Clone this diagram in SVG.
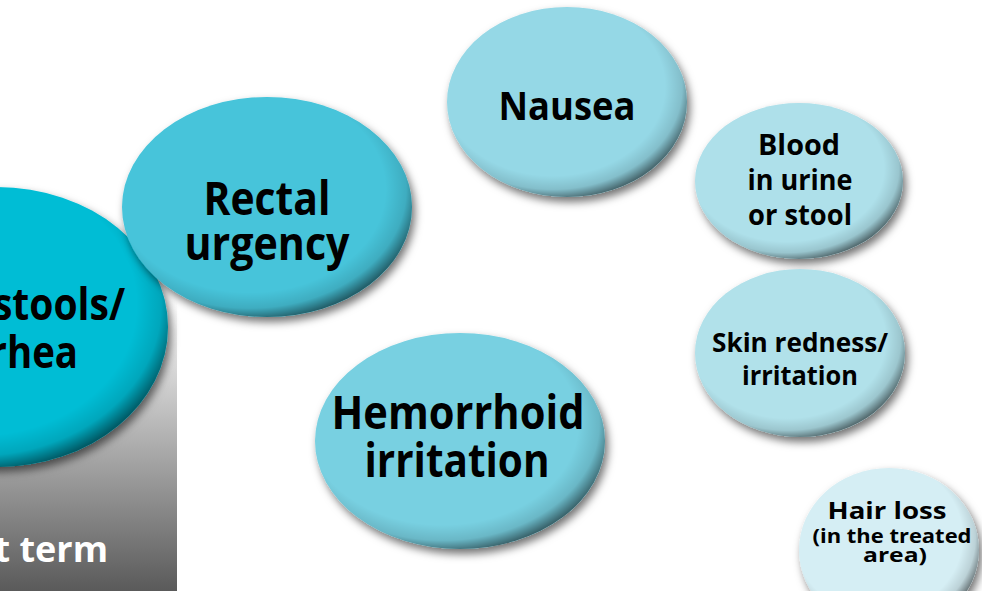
<svg xmlns="http://www.w3.org/2000/svg" width="982" height="591" viewBox="0 0 982 591">
<defs>
<linearGradient id="grayFade" x1="0" y1="0" x2="0" y2="1">
<stop offset="0" stop-color="#ffffff"/>
<stop offset="1" stop-color="#5a5a5a"/>
</linearGradient>
<radialGradient id="rim" cx="0.44" cy="0.42" r="0.6">
<stop offset="0.78" stop-color="#000" stop-opacity="0"/>
<stop offset="0.9" stop-color="#000" stop-opacity="0.12"/>
<stop offset="1" stop-color="#000" stop-opacity="0.55"/>
</radialGradient>
<filter id="shadow" x="-20%" y="-20%" width="140%" height="140%">
<feGaussianBlur in="SourceAlpha" stdDeviation="4"/>
<feOffset dx="3" dy="5" result="b"/>
<feFlood flood-color="#000" flood-opacity="0.55"/>
<feComposite in2="b" operator="in"/>
<feMerge><feMergeNode/><feMergeNode in="SourceGraphic"/></feMerge>
</filter>
</defs>
<style>
.lbl{font-family:"Open Sans","Liberation Sans",sans-serif;font-weight:700;fill:#000;text-anchor:middle}
.term{font-family:"Open Sans","Liberation Sans",sans-serif;font-weight:700;fill:#fff;text-anchor:end}
</style>
<rect width="982" height="591" fill="#ffffff"/>
<g id="short-term-panel">
<rect x="0" y="300" width="177" height="291" fill="url(#grayFade)"/>
<text class="term" x="108" y="562" font-size="36">Short term</text>
</g>
<g id="nodes">
<g id="loose-stools">
<ellipse cx="-3" cy="327" rx="171" ry="140" fill="#00BDD5" filter="url(#shadow)"/>
<ellipse cx="-3" cy="327" rx="171" ry="140" fill="url(#rim)"/>
<text class="lbl" style="text-anchor:end" x="125" y="320" font-size="45" textLength="255" lengthAdjust="spacingAndGlyphs">Loose stools/</text>
<text class="lbl" style="text-anchor:end" x="78" y="368" font-size="45" textLength="165" lengthAdjust="spacingAndGlyphs">diarrhea</text>
</g>
<g id="rectal-urgency">
<ellipse cx="267" cy="207" rx="145" ry="110" fill="#46C4DA" filter="url(#shadow)"/>
<ellipse cx="267" cy="207" rx="145" ry="110" fill="url(#rim)"/>
<text class="lbl" x="267" y="215" font-size="46" textLength="127" lengthAdjust="spacingAndGlyphs">Rectal</text>
<text class="lbl" x="267" y="260" font-size="46" textLength="165" lengthAdjust="spacingAndGlyphs">urgency</text>
</g>
<g id="nausea">
<ellipse cx="567" cy="102" rx="120" ry="95" fill="#95D8E6" filter="url(#shadow)"/>
<ellipse cx="567" cy="102" rx="120" ry="95" fill="url(#rim)"/>
<text class="lbl" x="567" y="120" font-size="39" textLength="137" lengthAdjust="spacingAndGlyphs">Nausea</text>
</g>
<g id="blood">
<ellipse cx="799" cy="181" rx="104" ry="78" fill="#AEE0EA" filter="url(#shadow)"/>
<ellipse cx="799" cy="181" rx="104" ry="78" fill="url(#rim)"/>
<text class="lbl" x="799" y="155" font-size="28" textLength="82" lengthAdjust="spacingAndGlyphs">Blood</text>
<text class="lbl" x="800" y="190" font-size="28" textLength="105" lengthAdjust="spacingAndGlyphs">in urine</text>
<text class="lbl" x="800" y="225" font-size="28" textLength="104" lengthAdjust="spacingAndGlyphs">or stool</text>
</g>
<g id="skin">
<ellipse cx="800" cy="353" rx="105" ry="84" fill="#B1E1EA" filter="url(#shadow)"/>
<ellipse cx="800" cy="353" rx="105" ry="84" fill="url(#rim)"/>
<text class="lbl" x="800" y="352" font-size="27" textLength="176" lengthAdjust="spacingAndGlyphs">Skin redness/</text>
<text class="lbl" x="800" y="385" font-size="27" textLength="116" lengthAdjust="spacingAndGlyphs">irritation</text>
</g>
<g id="hemorrhoid">
<ellipse cx="460" cy="441" rx="145" ry="108" fill="#78D0E1" filter="url(#shadow)"/>
<ellipse cx="460" cy="441" rx="145" ry="108" fill="url(#rim)"/>
<text class="lbl" x="458" y="429" font-size="46" textLength="253" lengthAdjust="spacingAndGlyphs">Hemorrhoid</text>
<text class="lbl" x="457" y="477" font-size="46" textLength="185" lengthAdjust="spacingAndGlyphs">irritation</text>
</g>
<g id="hair-loss">
<ellipse cx="889" cy="550" rx="90" ry="82" fill="#D5EEF4" filter="url(#shadow)"/>
<ellipse cx="889" cy="550" rx="90" ry="82" fill="url(#rim)"/>
<text class="lbl" x="887" y="519" font-size="24" textLength="119" lengthAdjust="spacingAndGlyphs">Hair loss</text>
<text class="lbl" x="892" y="543" font-size="20" textLength="159" lengthAdjust="spacingAndGlyphs">(in the treated</text>
<text class="lbl" x="895" y="562" font-size="20" textLength="64" lengthAdjust="spacingAndGlyphs">area)</text>
</g>
</g>
<g id="connectors"></g>
</svg>
